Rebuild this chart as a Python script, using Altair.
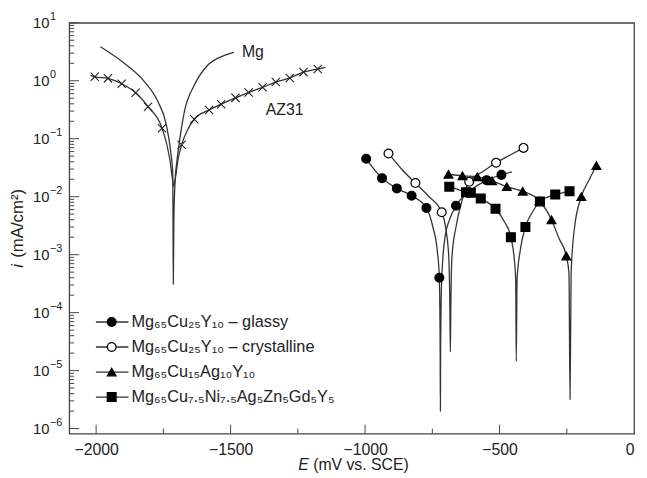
import altair as alt
import pandas as pd

# ---------------- data ----------------
mg_E = [-1984, -1892, -1819, -1770, -1739, -1723, -1715, -1714, -1713, -1711, -1706, -1700, -1690, -1672, -1635, -1586, -1525, -1488]
mg_i = [3.86, 1.95, 0.95, 0.434, 0.174, 0.061, 0.0244, 0.003, 3.1e-4, 0.004, 0.02, 0.04, 0.09, 0.29, 0.84, 1.83, 2.71, 3.08]

az_E = [-2021, -2005, -1956, -1905, -1853, -1807, -1755, -1727, -1716, -1712, -1706, -1695, -1682, -1660, -1635, -1580, -1535, -1482, -1433, -1381, -1332, -1280, -1229, -1176, -1148]
az_i = [1.24, 1.17, 1.10, 0.89, 0.62, 0.357, 0.152, 0.047, 0.02, 0.015, 0.02, 0.045, 0.079, 0.143, 0.217, 0.313, 0.395, 0.507, 0.625, 0.771, 0.95, 1.12, 1.41, 1.60, 1.71]
az_mE = [-2005, -1956, -1905, -1853, -1807, -1755, -1682, -1635, -1580, -1535, -1482, -1433, -1381, -1332, -1280, -1229, -1176]
az_mi = [1.17, 1.10, 0.89, 0.62, 0.357, 0.152, 0.079, 0.217, 0.313, 0.395, 0.507, 0.625, 0.771, 0.95, 1.12, 1.41, 1.60]

gl_E = [-996, -937, -882, -827, -772, -748, -732, -724, -721, -720, -719, -715, -703, -687, -662, -610, -548, -493, -454]
gl_i = [0.0451, 0.0209, 0.0139, 0.0104, 0.0064, 0.0030, 0.0012, 4.0e-4, 3e-5, 2.0e-6, 3e-5, 4e-4, 0.0020, 0.0039, 0.0070, 0.0125, 0.0193, 0.0238, 0.0268]
gl_mE = [-996, -937, -882, -827, -772, -724, -662, -548, -493]
gl_mi = [0.0451, 0.0209, 0.0139, 0.0104, 0.0064, 4.0e-4, 0.0070, 0.0193, 0.0238]

cr_E = [-913, -864, -813, -766, -715, -699, -689, -685, -683, -681, -677, -662, -640, -613, -563, -513, -462, -411]
cr_i = [0.0557, 0.0298, 0.0172, 0.0104, 0.0054, 0.00264, 9.3e-4, 1.5e-4, 2.1e-5, 1.5e-4, 9.3e-4, 0.0030, 0.0085, 0.0181, 0.027, 0.0385, 0.052, 0.0695]
cr_mE = [-913, -813, -715, -613, -513, -411]
cr_mi = [0.0557, 0.0172, 0.0054, 0.0181, 0.0385, 0.0695]

tr_E = [-690, -638, -583, -528, -473, -414, -352, -307, -279, -252, -242, -238, -234, -221, -196, -166, -140]
tr_i = [0.0244, 0.0229, 0.022, 0.0188, 0.0149, 0.0124, 0.0085, 0.0040, 0.0019, 9.5e-4, 4.8e-4, 3.2e-6, 4.8e-4, 0.003, 0.0100, 0.020, 0.0345]
tr_mE = [-690, -638, -583, -528, -473, -414, -352, -307, -252, -196, -140]
tr_mi = [0.0244, 0.0229, 0.022, 0.0188, 0.0149, 0.0124, 0.0085, 0.0040, 9.5e-4, 0.0100, 0.0345]

sq_E = [-687, -656, -625, -607, -570, -515, -482, -458, -445, -440, -438, -435, -423, -404, -377, -350, -293, -240]
sq_i = [0.0149, 0.0134, 0.0119, 0.0117, 0.0093, 0.0062, 0.0037, 0.0020, 8.1e-4, 3.7e-4, 1.45e-5, 3.7e-4, 0.0012, 0.0030, 0.0055, 0.0083, 0.0109, 0.0124]
sq_mE = [-687, -625, -607, -570, -515, -458, -404, -350, -293, -240]
sq_mi = [0.0149, 0.0119, 0.0117, 0.0093, 0.0062, 0.0020, 0.0030, 0.0083, 0.0109, 0.0124]

series_keys = ["glassy", "crystalline", "ag", "gd"]
legend_labels = [
    "Mg₆₅Cu₂₅Y₁₀ – glassy",
    "Mg₆₅Cu₂₅Y₁₀ – crystalline",
    "Mg₆₅Cu₁₅Ag₁₀Y₁₀",
    "Mg₆₅Cu₇.₅Ni₇.₅Ag₅Zn₅Gd₅Y₅",
]
x_tick_labels = [-2000, -1500, -1000, -500, 0]
x_minor = [-1750, -1250, -750, -250]
y_decades = [1e-6, 1e-5, 1e-4, 1e-3, 1e-2, 1e-1, 1e0, 1e1]
y_exponents = ["−6", "−5", "−4", "−3", "−2", "−1", "0", "1"]
y_minor = [k * d for d in y_decades[:-1] for k in range(2, 10)]

annot_text = ["Mg", "AZ31"]
annot_E = [-1458, -1369]
annot_i = [3.08, 0.313]

# ---------------- tables ----------------
def line_df(key, E, i):
    return pd.DataFrame({"E": E, "i": i, "s": key})

lines_df = pd.concat([
    line_df("mg", mg_E, mg_i),
    line_df("az", az_E, az_i),
    line_df("glassy", gl_E, gl_i),
    line_df("crystalline", cr_E, cr_i),
    line_df("ag", tr_E, tr_i),
    line_df("gd", sq_E, sq_i),
])
marks_df = pd.concat([
    line_df("glassy", gl_mE, gl_mi),
    line_df("crystalline", cr_mE, cr_mi),
    line_df("ag", tr_mE, tr_mi),
    line_df("gd", sq_mE, sq_mi),
])
az_marks_df = pd.DataFrame({"E": az_mE, "i": az_mi})
leg_df = pd.DataFrame({"s": series_keys, "label": legend_labels, "row": list(range(4))})
annot_df = pd.DataFrame({"t": annot_text, "E": annot_E, "i": annot_i})
ylab_df = pd.DataFrame({"i": y_decades, "base": ["10"] * len(y_decades), "exp": y_exponents})

FONT = "Liberation Sans"
W, H = 572, 416
xscale = alt.Scale(domain=[-2100, 0], nice=False, zero=False)
yscale = alt.Scale(type="log", domain=[8.2e-7, 10], nice=False)

x_axis = alt.Axis(values=x_tick_labels, format="d", ticks=False, tickSize=0, domain=False, grid=False,
                  title=None, labelFont=FONT, labelFontSize=16, labelColor="#222", labelPadding=8)

X = lambda: alt.X("E:Q", scale=xscale, axis=x_axis)
Y = lambda: alt.Y("i:Q", scale=yscale, axis=None)

shape_scale = alt.Scale(domain=series_keys, range=["circle", "circle", "triangle-up", "square"])
fill_scale = alt.Scale(domain=series_keys, range=["black", "white", "black", "black"])
size_scale = alt.Scale(domain=series_keys, range=[80, 80, 95, 85])

curves = alt.Chart(lines_df).mark_line(interpolate="monotone", color="#333", strokeWidth=1.3).encode(
    x=X(), y=Y(), detail="s:N")

pts = alt.Chart(marks_df).mark_point(filled=True, stroke="black", strokeWidth=1.2, opacity=1).encode(
    x=X(), y=Y(),
    shape=alt.Shape("s:N", scale=shape_scale, legend=None),
    fill=alt.Fill("s:N", scale=fill_scale, legend=None),
    size=alt.Size("s:N", scale=size_scale, legend=None),
)

xmark = alt.Chart(az_marks_df).mark_point(shape="M-1,-1L1,1M-1,1L1,-1", filled=False, stroke="#222",
                                          strokeWidth=1.1, size=70, opacity=1).encode(x=X(), y=Y())

annots = alt.Chart(annot_df).mark_text(align="left", baseline="middle", font=FONT, fontSize=16,
                                       color="#222").encode(x=X(), y=Y(), text="t:N")

# y tick labels: "10" with a raised exponent
ylab_base = alt.Chart(ylab_df).mark_text(align="right", baseline="middle", font=FONT, fontSize=15,
                                         color="#222").encode(x=alt.value(-20), y=Y(), text="base:N")
ylab_exp = alt.Chart(ylab_df).mark_text(align="left", baseline="middle", font=FONT, fontSize=11, dy=-6,
                                        color="#222").encode(x=alt.value(-19.5), y=Y(), text="exp:N")

# inward ticks
yt_major = alt.Chart(pd.DataFrame({"i": y_decades})).mark_rule(color="#444", strokeWidth=1).encode(
    y=Y(), x=alt.value(0), x2=alt.value(10))
yt_minor = alt.Chart(pd.DataFrame({"i": y_minor})).mark_rule(color="#444", strokeWidth=1).encode(
    y=Y(), x=alt.value(0), x2=alt.value(5))
xt_major = alt.Chart(pd.DataFrame({"E": x_tick_labels[:-1]})).mark_rule(color="#444", strokeWidth=1).encode(
    x=X(), y=alt.value(H), y2=alt.value(H - 9))
xt_minor = alt.Chart(pd.DataFrame({"E": x_minor})).mark_rule(color="#444", strokeWidth=1).encode(
    x=X(), y=alt.value(H), y2=alt.value(H - 5))

# axis titles
xt1 = alt.Chart(pd.DataFrame({"t": ["E"]})).mark_text(align="left", baseline="alphabetic", font=FONT,
        fontSize=16, fontStyle="italic", color="#222").encode(x=alt.value(232), y=alt.value(H + 37), text="t:N")
xt2 = alt.Chart(pd.DataFrame({"t": ["(mV vs. SCE)"]})).mark_text(align="left", baseline="alphabetic", font=FONT,
        fontSize=16, color="#222").encode(x=alt.value(247), y=alt.value(H + 37), text="t:N")
yt1 = alt.Chart(pd.DataFrame({"t": ["i"]})).mark_text(align="left", baseline="middle", angle=270, font=FONT,
        fontSize=17, fontStyle="italic", color="#222").encode(x=alt.value(-52), y=alt.value(248), text="t:N")
yt2 = alt.Chart(pd.DataFrame({"t": ["(mA/cm²)"]})).mark_text(align="left", baseline="middle", angle=270, font=FONT,
        fontSize=17, color="#222").encode(x=alt.value(-52), y=alt.value(238), text="t:N")

main = alt.layer(curves, pts, xmark, annots, ylab_base, ylab_exp, yt_major, yt_minor, xt_major, xt_minor,
                 xt1, xt2, yt1, yt2)

# legend
rowscale = alt.Scale(domain=[0, 3], range=[303, 379])
LY = alt.Y("row:Q", scale=rowscale, axis=None)
leg_line = alt.Chart(leg_df).mark_rule(color="#333", strokeWidth=1.3).encode(
    y=LY, x=alt.value(27), x2=alt.value(60))
leg_pts = alt.Chart(leg_df).mark_point(filled=True, stroke="black", strokeWidth=1.2, opacity=1).encode(
    y=LY, x=alt.value(43),
    shape=alt.Shape("s:N", scale=shape_scale, legend=None),
    fill=alt.Fill("s:N", scale=fill_scale, legend=None),
    size=alt.Size("s:N", scale=size_scale, legend=None),
)
leg_txt = alt.Chart(leg_df).mark_text(align="left", baseline="middle", font=FONT, fontSize=16.5,
                                      color="#222").encode(y=LY, x=alt.value(63), text="label:N")
legend = alt.layer(leg_line, leg_pts, leg_txt)

chart = alt.layer(main, legend).resolve_scale(y="independent").properties(
    width=W, height=H,
    autosize=alt.AutoSizeParams(type="none"),
    padding={"left": 62, "top": 12, "right": 5, "bottom": 42},
    background="white",
).configure_view(stroke="#444", strokeWidth=1.3)

chart.save("out.html", embed_options={"renderer": "svg", "actions": False})
